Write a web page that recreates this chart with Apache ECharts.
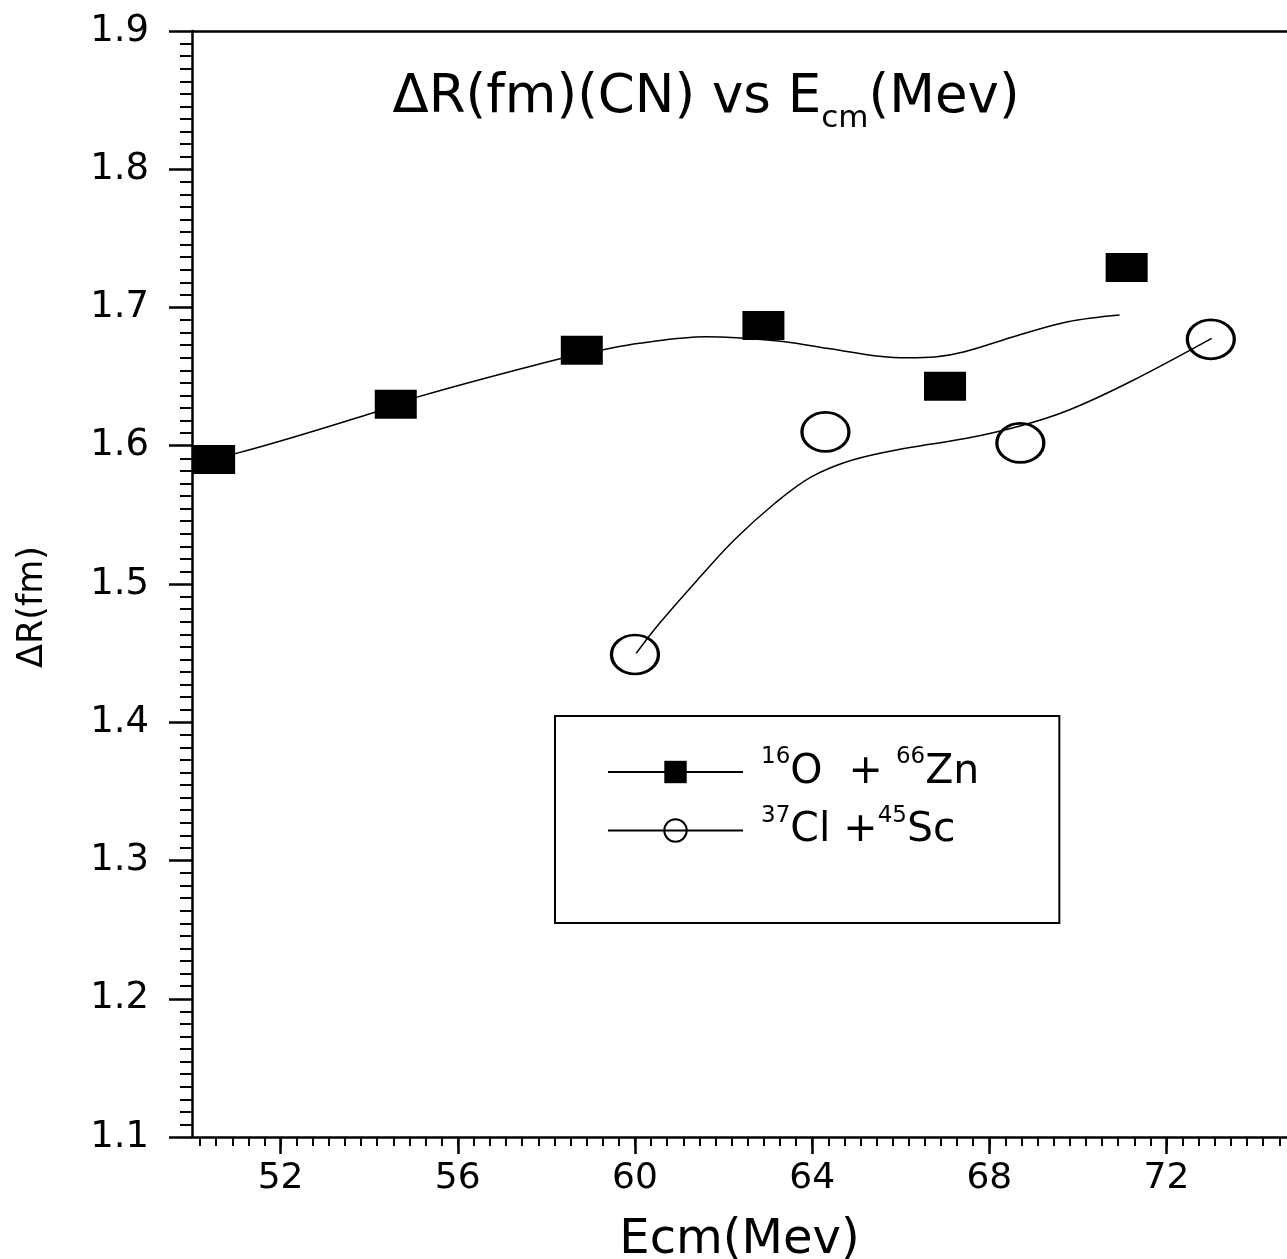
<!DOCTYPE html>
<html>
<head>
<meta charset="utf-8">
<script src="https://cdn.jsdelivr.net/npm/echarts@6/dist/echarts.min.js"></script>
<style>
  html, body { margin: 0; padding: 0; background: #fff; }
  #chart { width: 1287px; height: 1259px; }
</style>
</head>
<body>
<div id="chart"></div>
<script>
// Axis ticks
const xTicks = [52, 56, 60, 64, 68, 72];
const yTicks = [1.1, 1.2, 1.3, 1.4, 1.5, 1.6, 1.7, 1.8, 1.9];

// 16O + 66Zn : measured points
const znX = [50.5, 54.6, 58.8, 62.9, 67.0, 71.1];
const znY = [1.590, 1.630, 1.669, 1.687, 1.643, 1.729];
// 16O + 66Zn : fitted curve
const znFitX = [50.17, 51.0, 54.16, 55.06, 58.35, 59.26, 60.10, 61.59, 62.29, 63.39, 64.33, 65.57, 66.17, 66.77, 67.44, 68.60, 69.77, 70.94];
const znFitY = [1.591, 1.5945, 1.6246, 1.635, 1.6633, 1.6693, 1.6741, 1.6789, 1.6782, 1.6753, 1.6705, 1.6645, 1.6636, 1.6642, 1.668, 1.6794, 1.6897, 1.6946];

// 37Cl + 45Sc : measured points
const scX = [60.0, 64.3, 68.7, 73.0];
const scY = [1.449, 1.610, 1.602, 1.677];
// 37Cl + 45Sc : fitted curve
const scFitX = [60.03, 60.49, 61.41, 62.24, 63.16, 63.99, 64.91, 66.11, 67.49, 68.69, 69.80, 71.18, 73.02];
const scFitY = [1.4499, 1.4691, 1.5029, 1.5318, 1.5584, 1.5776, 1.5897, 1.5982, 1.6054, 1.6143, 1.6259, 1.6463, 1.6777];

const legendNames = ['16O + 66Zn', '37Cl + 45Sc'];
const legendRich = {
  '16O + 66Zn': '{gap| }{sup|16}{t|O  + }{sup|66}{t|Zn}',
  '37Cl + 45Sc': '{gap| }{sup|37}{t|Cl +}{sup|45}{t|Sc}'
};

const FONT = 'DejaVu Sans';
const X_MIN = 50, X_MAX = 74.72;

// ten minor ticks between neighbouring labelled ticks
const xStep = (xTicks[1] - xTicks[0]) / 11;
const xMinor = [];
for (let k = -20; k <= 80; k++) {
  const v = xTicks[0] + k * xStep;
  if (v >= X_MIN - 1e-9 && v <= X_MAX) xMinor.push(+v.toFixed(4));
}

const zip = (a, b) => a.map((v, i) => [v, b[i]]);

const chart = echarts.init(document.getElementById('chart'), null, { renderer: 'canvas' });

chart.setOption({
  animation: false,
  backgroundColor: '#fff',
  title: {
    text: '{t|ΔR(fm)(CN) vs E}{s|cm}{t|(Mev)}',
    left: 701,
    top: 57,
    textAlign: 'center',
    textStyle: {
      fontWeight: 'normal',
      rich: {
        t: { fontFamily: FONT, fontSize: 53, fontWeight: 'normal', color: '#000', lineHeight: 72 },
        s: { fontFamily: FONT, fontSize: 31, fontWeight: 'normal', color: '#000', lineHeight: 24, verticalAlign: 'bottom' }
      }
    }
  },
  grid: { left: 192, right: 0, top: 31, bottom: 122, containLabel: false, outerBoundsMode: 'none' },
  legend: {
    left: 555,
    top: 716,
    orient: 'vertical',
    padding: [30, 80, 72, 52],
    itemWidth: 135,
    itemHeight: 28,
    itemGap: 12,
    borderColor: '#000',
    borderWidth: 2,
    selectedMode: false,
    data: [
      { name: legendNames[0], itemStyle: { color: '#000' } },
      { name: legendNames[1], itemStyle: { color: 'rgba(0,0,0,0)', borderColor: '#000', borderWidth: 2 } }
    ],
    formatter: name => legendRich[name],
    textStyle: {
      rich: {
        gap: { width: 13 },
        t: { fontFamily: FONT, fontSize: 41, color: '#000', lineHeight: 52 },
        sup: { fontFamily: FONT, fontSize: 23, color: '#000', lineHeight: 20, verticalAlign: 'top' }
      }
    }
  },
  xAxis: [
    {
      type: 'value', min: X_MIN, max: X_MAX, position: 'bottom',
      axisLine: { show: true, lineStyle: { color: '#000', width: 2.5 } },
      axisTick: { show: true, customValues: xTicks, length: 17, lineStyle: { color: '#000', width: 2.5 } },
      axisLabel: { customValues: xTicks, margin: 24, fontFamily: FONT, fontSize: 36, color: '#000' },
      splitLine: { show: false },
      name: 'Ecm(Mev)', nameLocation: 'middle', nameGap: 80,
      nameTextStyle: { fontFamily: FONT, fontSize: 48, color: '#000' }
    },
    {
      type: 'value', min: X_MIN, max: X_MAX, position: 'bottom',
      axisLine: { show: false },
      axisTick: { show: true, customValues: xMinor, length: 9, lineStyle: { color: '#000', width: 2 } },
      axisLabel: { show: false },
      splitLine: { show: false }
    },
    {
      type: 'value', min: X_MIN, max: X_MAX, position: 'top',
      axisLine: { show: true, lineStyle: { color: '#000', width: 2.5 } },
      axisTick: { show: false },
      axisLabel: { show: false },
      splitLine: { show: false }
    }
  ],
  yAxis: {
    type: 'value', min: yTicks[0], max: yTicks[yTicks.length - 1], interval: 0.1,
    axisLine: { show: true, lineStyle: { color: '#000', width: 2.5 } },
    axisTick: { show: true, length: 23, lineStyle: { color: '#000', width: 2.5 } },
    minorTick: { show: true, splitNumber: 11, length: 12, lineStyle: { color: '#000', width: 2 } },
    axisLabel: { margin: 43, fontFamily: FONT, fontSize: 37, color: '#000', formatter: v => v.toFixed(1) },
    splitLine: { show: false },
    minorSplitLine: { show: false },
    name: 'ΔR(fm)', nameLocation: 'middle', nameRotate: 90, nameGap: 142,
    nameTextStyle: { fontFamily: FONT, fontSize: 35, color: '#000', padding: [0, 46, 0, 0] }
  },
  series: [
    {
      name: legendNames[0], type: 'line', xAxisIndex: 0,
      data: zip(znFitX, znFitY), smooth: 0.35,
      symbol: 'rect', showSymbol: false, silent: true,
      lineStyle: { color: '#000', width: 1.5 }, itemStyle: { color: '#000' }, z: 2
    },
    {
      name: 'znPoints', type: 'scatter', xAxisIndex: 0,
      data: zip(znX, znY), symbol: 'rect', symbolSize: [42, 29],
      itemStyle: { color: '#000', opacity: 1 }, z: 3
    },
    {
      name: legendNames[1], type: 'line', xAxisIndex: 0,
      data: zip(scFitX, scFitY), smooth: 0.35,
      symbol: 'circle', showSymbol: false, silent: true,
      lineStyle: { color: '#000', width: 1.5 }, itemStyle: { color: '#000' }, z: 2
    },
    {
      name: 'scPoints', type: 'scatter', xAxisIndex: 0,
      data: zip(scX, scY), symbol: 'circle', symbolSize: [47, 39],
      itemStyle: { color: 'rgba(0,0,0,0)', borderColor: '#000', borderWidth: 3, opacity: 1 }, z: 3
    }
  ]
});
</script>
</body>
</html>
